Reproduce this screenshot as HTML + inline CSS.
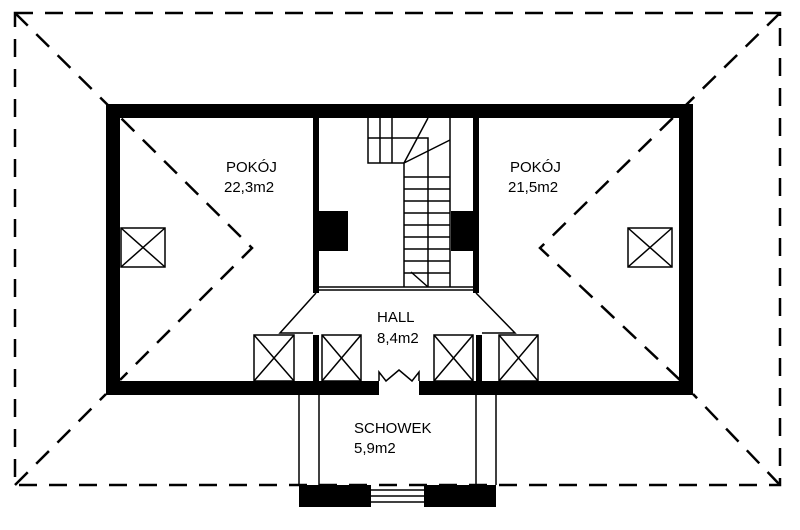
<!DOCTYPE html>
<html><head><style>body{margin:0;background:#fff}svg{display:block}</style></head><body>
<svg width="800" height="530" viewBox="0 0 800 530" xmlns="http://www.w3.org/2000/svg" font-family="Liberation Sans, sans-serif">
<g fill="none" stroke="#000" stroke-width="2.5" stroke-dasharray="18,12">
<rect x="15" y="13" width="765" height="472"/>
<polyline points="15,13 252,248 120,380"/>
<polyline points="780,13 540,248 680,380"/>
<line x1="15" y1="485" x2="106" y2="394"/>
<line x1="780" y1="485" x2="693" y2="394"/>
</g>
<g fill="#000">
<rect x="106" y="104" width="587" height="14"/>
<rect x="106" y="104" width="14" height="290"/>
<rect x="679" y="104" width="14" height="290"/>
<rect x="106" y="381" width="273" height="14"/>
<rect x="419" y="381" width="274" height="14"/>
<rect x="313" y="118" width="6" height="175"/>
<rect x="473" y="118" width="6" height="175"/>
<rect x="317" y="211" width="31" height="40"/>
<rect x="451" y="211" width="25" height="40"/>
<rect x="313" y="335" width="6" height="47"/>
<rect x="476" y="335" width="6" height="47"/>
<rect x="299" y="485" width="72" height="22"/>
<rect x="424" y="485" width="72" height="22"/>
</g>
<g fill="#fff" stroke="#000" stroke-width="1.5">
<rect x="121" y="228" width="44" height="39"/>
<rect x="628" y="228" width="44" height="39"/>
<rect x="254" y="335" width="40" height="46"/>
<rect x="322" y="335" width="39" height="46"/>
<rect x="434" y="335" width="39" height="46"/>
<rect x="499" y="335" width="39" height="46"/>
</g>
<g stroke="#000" stroke-width="1.5" fill="none">
<path d="M121,228L165,267M165,228L121,267M628,228L672,267M672,228L628,267"/>
<path d="M254,335L294,381M294,335L254,381M322,335L361,381M361,335L322,381M434,335L473,381M473,335L434,381M499,335L538,381M538,335L499,381"/>
<path d="M316,293L280,333L313,333M476,293L515,333L482,333"/>
<path d="M379,381V372L386,381L399,370L412,381L419,372V381"/>
<path d="M299,395V485M319,395V485M476,395V485M496,395V485"/>
<path d="M371,490H424M371,496H424M371,502H424"/>
<path d="M319,287H473M319,290H473"/>
<path d="M368,118V163H404M380,118V163M392,118V163M368,138H428V287M404,163V287M450,118V287"/>
<path d="M404,163L428,118M404,163L450,140"/>
<path d="M404,177H450M404,189H450M404,201H450M404,213H450M404,225H450M404,237H450M404,249H450M404,261H450M404,273H450"/>
<path d="M411,272L428,287"/>
</g>
<g font-size="15" fill="#000">
<text x="226" y="172">POKÓJ</text><text x="224" y="192">22,3m2</text>
<text x="510" y="172">POKÓJ</text><text x="508" y="192">21,5m2</text>
<text x="377" y="322">HALL</text><text x="377" y="343">8,4m2</text>
<text x="354" y="433">SCHOWEK</text><text x="354" y="453">5,9m2</text>
</g>
</svg>
</body></html>
